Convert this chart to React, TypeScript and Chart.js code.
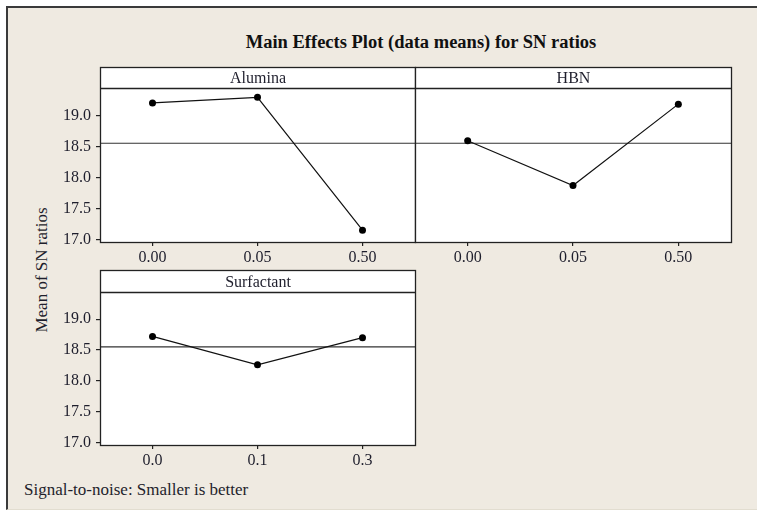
import React, { useEffect, useRef } from "react";
import { Chart, registerables } from "chart.js";

Chart.register(...registerables);

// ---- data ----
const aluminaLevels = ["0.00", "0.05", "0.50"];
const aluminaMeans = [19.2, 19.29, 17.15];
const hbnLevels = ["0.00", "0.05", "0.50"];
const hbnMeans = [18.59, 17.87, 19.18];
const surfactantLevels = ["0.0", "0.1", "0.3"];
const surfactantMeans = [18.72, 18.26, 18.7];
const overallMean = 18.55;
const yTickValues = [17.0, 17.5, 18.0, 18.5, 19.0];
const yMin = 16.96;
const yMax = 19.44;

const SERIF = "'Liberation Serif', 'Times New Roman', serif";
const TEXT = "#1e1e2c";
const LINE = "#222";

const framePlugin = {
  id: "panelFrame",
  beforeDraw(chart: any, _a: any, opts: any) {
    const { ctx, chartArea: a } = chart;
    ctx.save();
    ctx.fillStyle = "#ffffff";
    ctx.fillRect(a.left, a.top - opts.headerHeight, a.right - a.left, a.bottom - a.top + opts.headerHeight);
    ctx.restore();
  },
  afterDraw(chart: any, _a: any, opts: any) {
    const { ctx, chartArea: a } = chart;
    const l = Math.round(a.left) + 0.5;
    const r = Math.round(a.right) + 0.5;
    const t = Math.round(a.top) + 0.5;
    const b = Math.round(a.bottom) + 0.5;
    const ht = Math.round(a.top - opts.headerHeight) + 0.5;
    ctx.save();
    ctx.strokeStyle = LINE;
    ctx.lineWidth = 1.3;
    ctx.strokeRect(l, ht, r - l, b - ht);
    ctx.beginPath();
    ctx.moveTo(l, t);
    ctx.lineTo(r, t);
    ctx.stroke();
    ctx.fillStyle = TEXT;
    ctx.font = `16px ${SERIF}`;
    ctx.textAlign = "center";
    ctx.textBaseline = "middle";
    ctx.fillText(opts.title, (l + r) / 2, (ht + t) / 2 + 1);
    ctx.restore();
  },
};

type PanelProps = {
  title: string;
  levels: string[];
  means: number[];
  showY: boolean;
  left: number;
  top: number;
  width: number;
  height: number;
  padding: { left: number; right: number; top: number; bottom: number };
  xHeight: number;
  headerHeight: number;
};

function Panel(p: PanelProps) {
  const ref = useRef<HTMLCanvasElement | null>(null);
  useEffect(() => {
    if (!ref.current) return;
    const chart = new Chart(ref.current, {
      type: "line",
      data: {
        datasets: [
          {
            data: p.levels.map((_, i) => ({ x: i, y: p.means[i] })),
            borderColor: "#111",
            borderWidth: 1.2,
            pointRadius: 3.5,
            pointBackgroundColor: "#000",
            pointBorderWidth: 0,
            tension: 0,
          },
          {
            data: [
              { x: -0.5, y: overallMean },
              { x: p.levels.length - 0.5, y: overallMean },
            ],
            borderColor: "#333",
            borderWidth: 1.2,
            pointRadius: 0,
          },
        ],
      },
      plugins: [framePlugin as any],
      options: {
        animation: false,
        responsive: false,
        events: [],
        layout: { padding: p.padding },
        scales: {
          x: {
            type: "linear",
            min: -0.5,
            max: p.levels.length - 0.5,
            afterBuildTicks: (s: any) => {
              s.ticks = p.levels.map((_, i) => ({ value: i }));
            },
            afterFit: (s: any) => {
              s.height = p.xHeight;
            },
            ticks: {
              autoSkip: false,
              maxRotation: 0,
              padding: 2,
              color: TEXT,
              font: { family: SERIF, size: 16 },
              callback: (_v: any, i: number) => p.levels[i],
            },
            grid: { display: true, drawOnChartArea: false, drawTicks: true, tickLength: 4, color: LINE, lineWidth: 1.2 },
            border: { display: false },
          },
          y: {
            type: "linear",
            display: p.showY,
            min: yMin,
            max: yMax,
            afterBuildTicks: (s: any) => {
              s.ticks = yTickValues.map((v) => ({ value: v }));
            },
            afterFit: (s: any) => {
              s.width = p.showY ? 60 : 0;
            },
            ticks: {
              padding: 5,
              color: TEXT,
              font: { family: SERIF, size: 16 },
              callback: (v: any) => Number(v).toFixed(1),
            },
            grid: { display: true, drawOnChartArea: false, drawTicks: true, tickLength: 4, color: LINE, lineWidth: 1.2 },
            border: { display: false },
          },
        },
        plugins: {
          legend: { display: false },
          tooltip: { enabled: false },
          panelFrame: { title: p.title, headerHeight: p.headerHeight },
        } as any,
      },
    });
    return () => chart.destroy();
  }, []);
  return (
    <canvas
      ref={ref}
      width={p.width}
      height={p.height}
      style={{ position: "absolute", left: p.left, top: p.top, width: p.width, height: p.height }}
    />
  );
}

export default function App() {
  return (
    <div
      style={{
        position: "absolute",
        left: 0,
        top: 0,
        width: 757,
        height: 510,
        background: "#ffffff",
        overflow: "hidden",
        fontFamily: SERIF,
      }}
    >
      <div
        style={{
          position: "absolute",
          left: 6,
          top: 6,
          width: 760,
          height: 501,
          background: "#efeae1",
          borderLeft: "2px solid #3a3a3a",
          borderTop: "2px solid #3a3a3a",
          borderBottom: "1px solid #e2ddd0",
        }}
      />
      <div
        style={{
          position: "absolute",
          left: 421,
          top: 32,
          transform: "translateX(-50%)",
          whiteSpace: "nowrap",
          fontWeight: "bold",
          fontSize: 18.5,
          color: "#111",
        }}
      >
        Main Effects Plot (data means) for SN ratios
      </div>
      <div
        style={{
          position: "absolute",
          left: 42,
          top: 270,
          transform: "translate(-50%, -50%) rotate(-90deg)",
          whiteSpace: "nowrap",
          fontSize: 17,
          color: TEXT,
        }}
      >
        Mean of SN ratios
      </div>
      <div
        style={{
          position: "absolute",
          left: 24,
          top: 480,
          whiteSpace: "nowrap",
          fontSize: 17,
          color: TEXT,
        }}
      >
        Signal-to-noise: Smaller is better
      </div>
      <Panel
        title="Alumina"
        levels={aluminaLevels}
        means={aluminaMeans}
        showY={true}
        left={40}
        top={60}
        width={380}
        height={210}
        padding={{ left: 0, right: 5, top: 28, bottom: 0 }}
        xHeight={28}
        headerHeight={21}
      />
      <Panel
        title="HBN"
        levels={hbnLevels}
        means={hbnMeans}
        showY={false}
        left={410}
        top={60}
        width={330}
        height={210}
        padding={{ left: 5, right: 9, top: 28, bottom: 0 }}
        xHeight={28}
        headerHeight={21}
      />
      <Panel
        title="Surfactant"
        levels={surfactantLevels}
        means={surfactantMeans}
        showY={true}
        left={40}
        top={264}
        width={380}
        height={210}
        padding={{ left: 0, right: 5, top: 28, bottom: 0 }}
        xHeight={29}
        headerHeight={22}
      />
    </div>
  );
}
